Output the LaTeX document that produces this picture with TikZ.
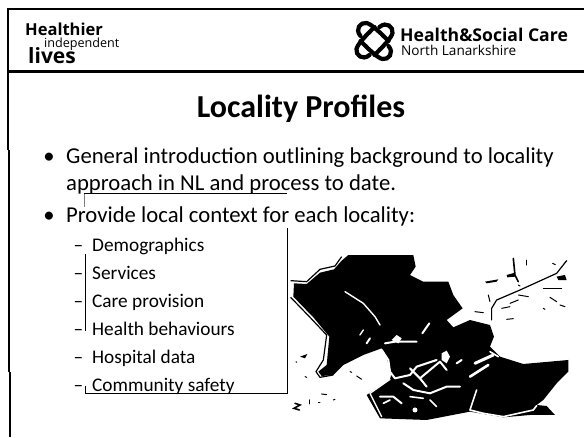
\documentclass[tikz,border=0pt]{standalone}
\usepackage{fontspec}
\setmainfont{Carlito}
\newfontfamily\logofont{Open Sans}
\tikzset{
  body/.style={anchor=base west,inner sep=0pt,font=\fontsize{22.7}{25}\selectfont},
  sub/.style={anchor=base west,inner sep=0pt,font=\fontsize{19.3}{21}\selectfont},
  frame/.style={line width=2pt,black},
  thin box/.style={line width=0.9pt,black},
  channel/.style={white,line width=1.4pt,line cap=round,line join=round},
  speck/.style={black,line width=1pt,line cap=round},
  knot/.style={line width=4.2pt,line cap=round,black}
}
\begin{document}
\begin{tikzpicture}[x=1pt,y=-1pt]
\useasboundingbox (0,0) rectangle (584,437);
\fill[white] (0,0) rectangle (584,437);
% frame
\draw[frame] (7,9) -- (584,9);
\draw[frame,line width=2.4pt] (7,71.5) -- (584,71.5);
\draw[frame] (8,9) -- (8,150);
\draw[frame,line width=2.6pt] (9,150) -- (9,372);
\draw[line width=1.2pt] (10,372) -- (10,410);
\draw[frame,line width=2.6pt] (10,410) -- (10,437);
% header left
\node[anchor=base west,inner sep=0pt,font=\logofont\bfseries\fontsize{16.5}{17}\selectfont] (h1) at (25,35) {Healthier};
\node[anchor=base west,inner sep=0pt,font=\logofont\fontsize{12.6}{13}\selectfont] (h2) at (44,47) {independent};
\node[anchor=base west,inner sep=0pt,font=\logofont\bfseries\fontsize{21}{22}\selectfont] (h3) at (28,63) {lives};
% header right
\node[anchor=base west,inner sep=0pt,font=\logofont\bfseries\fontsize{17.6}{18}\selectfont] (hs) at (400,41.5) {Health\&Social Care};
\node[anchor=base west,inner sep=0pt,font=\logofont\fontsize{13.6}{14}\selectfont] (nl) at (401,55) {North Lanarkshire};
% logo
\begin{scope}[shift={(374.5,41)}]
\foreach \a in {0,90,180,270}{
  \begin{scope}[rotate=\a]
    \draw[knot] (-14,-5) .. controls (-20,-12) and (-14,-19) .. (-8,-18) .. controls (-3,-17) and (6,-8) .. (14,0);
  \end{scope}
}
\foreach \a in {45,135,225,315}{
  \fill[white] (\a:6.5) circle (1.5pt);
}
\end{scope}
% title
\node[anchor=base,inner sep=0pt,font=\bfseries\fontsize{32}{35}\selectfont] (title) at (301,117) {Locality Profiles};
% bullets
\node[body,anchor=base] (b1) at (49,163) {•};
\node[body] (t1) at (66,163) {General introduction outlining background to locality};
\node[body] (t1b) at (66,190) {approach in NL and process to date.};
\node[body,anchor=base] (b2) at (49,222) {•};
\node[body] (t2) at (66,222) {Provide local context for each locality:};
% sub list
\foreach \n/\y/\t in {a/251/Demographics,b/279/Services,c/307/Care provision,d/335/Health behaviours,e/363/Hospital data,f/391/Community safety}{
  \node[sub] (s\n) at (92,\y) {\t};
  \node[sub] (d\n) at (73.5,\y) {–};
}
% thin lines
\draw[thin box] (84,193.5) -- (287,193.5);
\draw[thin box,gray] (84,194) -- (84,207);
\draw[thin box] (287,228) -- (287,393) -- (85,393) -- (85,386);
\draw[thin box] (85,254) -- (85,331);
% map
\begin{scope}[shift={(270,240)},x=0.3333pt,y=-0.3333pt]
\draw[line width=1.2pt] (62,122) -- (110,125) -- (150,88) -- (195,78) -- (215,50);
\draw[line width=1.2pt] (62,172) -- (120,232) -- (170,285) -- (160,360) -- (138,395) -- (150,412) -- (190,405);
\fill (72,130) -- (110,132) -- (150,98) -- (192,88) -- (215,62) -- (235,45) -- (430,45) -- (437,80) -- (420,105) -- (460,125) -- (535,125) -- (550,165) -- (578,205) -- (530,240) -- (550,262) -- (600,240) -- (660,255) -- (672,290) -- (660,320) -- (690,350) -- (760,372) -- (895,360) -- (895,395) -- (860,430) -- (820,480) -- (800,495) -- (830,498) -- (855,525) -- (780,525) -- (700,532) -- (600,515) -- (470,540) -- (330,535) -- (290,465) -- (360,418) -- (365,400) -- (345,340) -- (335,325) -- (280,345) -- (220,375) -- (190,405) -- (155,408) -- (145,395) -- (170,375) -- (178,290) -- (130,232) -- (70,170) -- cycle;
% white channels
\draw[channel] (225,155) -- (280,190) -- (315,230) -- (330,255);
\draw[channel,line width=2pt] (457,280) -- (478,250);
\draw[channel,line width=2pt] (335,330) -- (355,360) -- (360,395) -- (375,415) -- (420,405) -- (440,380) -- (500,360);
\draw[channel] (360,418) -- (300,460) -- (335,530);
\draw[channel,line width=2pt] (345,310) -- (375,305) -- (440,305);
\draw[channel,line width=2pt] (290,310) -- (300,295);
\draw[channel] (270,285) -- (280,270);
\fill[white] (365,300) -- (380,285) -- (395,295) -- (385,310) -- cycle;
\fill[white] (515,340) -- (530,332) -- (540,350) -- (530,370) -- (515,360) -- cycle;
\draw[channel,line width=2pt] (420,385) -- (450,415) -- (470,440);
\draw[channel,line width=2pt] (400,430) -- (430,450) -- (480,460) -- (530,440) -- (570,440);
\draw[channel,line width=2pt] (450,415) -- (510,365) -- (530,390);
\draw[channel,line width=2pt] (560,370) -- (575,360);
\draw[channel,line width=3pt] (615,370) -- (670,345);
\draw[channel,line width=2.6pt] (600,410) -- (655,375);
\draw[channel,line width=2pt] (330,470) -- (370,470) -- (395,490);
\draw[channel,line width=1.6pt] (340,490) -- (360,480);
\draw[channel,line width=1.6pt] (480,480) -- (500,500);
\draw[channel,line width=1.6pt] (420,470) -- (460,475);
\fill[white] (435,510) circle (2.5pt);
\draw[channel,line width=1.6pt] (620,450) -- (600,510) -- (640,520) -- (700,530) -- (790,510) -- (800,497);
\draw[channel,line width=1.6pt] (660,335) -- (685,350);
% outer-right specks
\draw[speck,line width=1.2pt] (665,240) -- (665,205) -- (680,180) -- (750,150) -- (860,100) -- (890,62);
\draw[speck,line width=1.6pt] (730,55) -- (735,105) -- (745,125);
\fill (645,125) -- (685,118) -- (680,125) -- (650,130) -- cycle;
\fill (710,105) -- (735,98) -- (735,110) -- (712,112) -- cycle;
\fill (860,110) -- (885,105) -- (890,120) -- (865,120) -- cycle;
\fill (90,350) -- (112,342) -- (105,355) -- cycle;
\draw[speck] (615,215) -- (640,218);
\draw[speck] (710,238) -- (730,236);
\draw[speck] (695,205) -- (720,200);
\draw[speck] (720,190) -- (745,180);
\draw[speck] (840,172) -- (860,185);
\draw[speck] (820,145) -- (875,145);
\draw[speck] (820,205) -- (825,208);
\draw[speck] (870,195) -- (885,200);
\draw[speck] (745,165) -- (775,170);
\draw[speck] (655,165) -- (660,185);
\draw[speck] (770,60) -- (770,75);
\draw[speck] (848,70) -- (856,74);
\draw[speck] (745,135) -- (750,138);
\draw[speck,line width=1.6pt] (75,490) -- (90,495) -- (72,505) -- (88,510);
\draw[speck] (118,480) -- (118,492);
\draw[speck] (145,488) -- (150,488);
\draw[speck] (155,462) -- (170,464);
\draw[speck] (190,480) -- (195,478);
\draw[speck] (240,395) -- (245,397);
\draw[speck] (260,408) -- (275,418);
\draw[speck] (105,410) -- (110,412);
\draw[speck] (78,365) -- (80,367);
\end{scope}
\end{tikzpicture}
\end{document}
